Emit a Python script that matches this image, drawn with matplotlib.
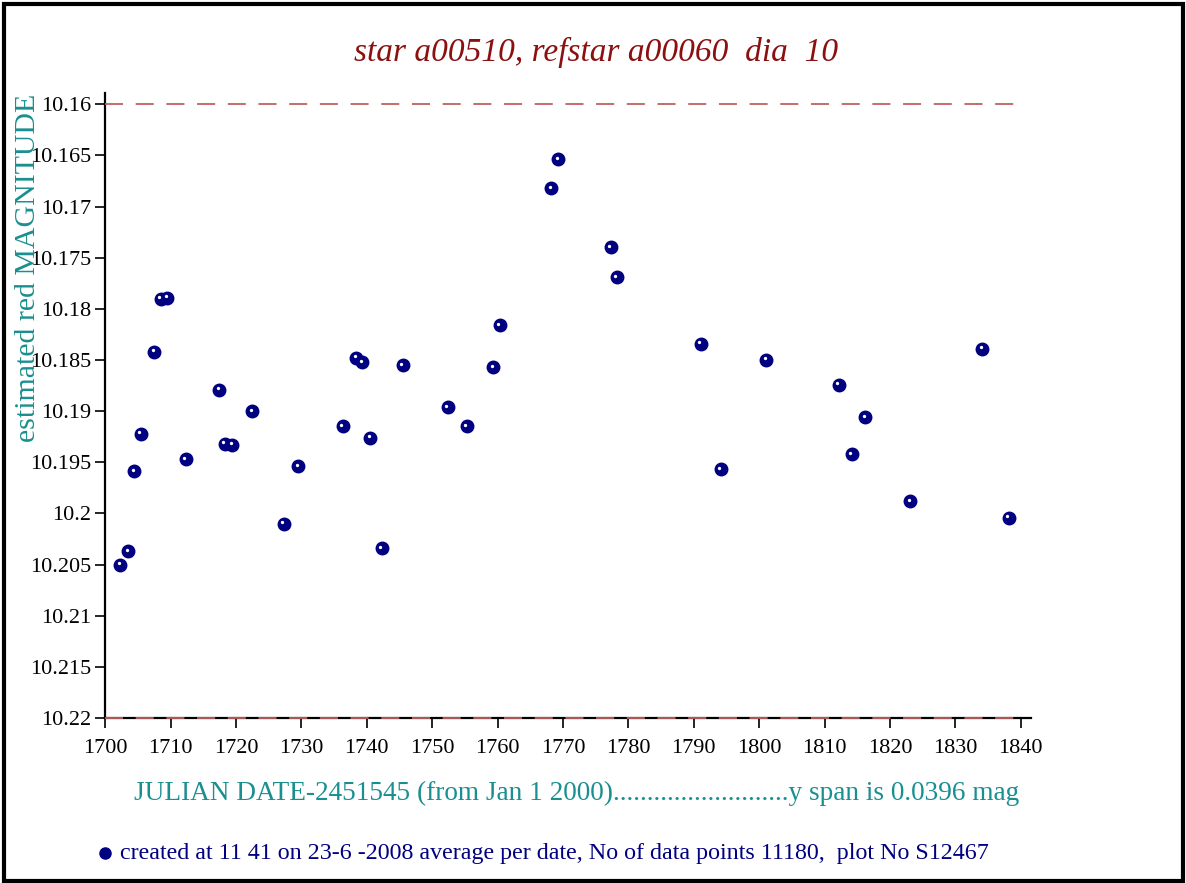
import matplotlib
matplotlib.use("Agg")
import matplotlib.pyplot as plt
from matplotlib.patches import Rectangle
from matplotlib.transforms import offset_copy

# ---- data ----
jd = [1702.3, 1703.5, 1704.4, 1705.4, 1707.5, 1708.5, 1709.5, 1712.3, 1717.4, 1718.3,
      1719.4, 1722.5, 1727.3, 1729.5, 1736.3, 1738.4, 1739.3, 1740.5, 1742.3, 1745.5,
      1752.4, 1755.3, 1759.3, 1760.3, 1768.2, 1769.3, 1777.3, 1778.2, 1791.1, 1794.1,
      1801.1, 1812.2, 1814.2, 1816.2, 1823.1, 1834.1, 1838.2]
mag = [10.2050, 10.2037, 10.1959, 10.1922, 10.1842, 10.1790, 10.1789, 10.1947, 10.1879, 10.1932,
       10.1933, 10.1900, 10.2010, 10.1954, 10.1915, 10.1848, 10.1852, 10.1926, 10.2034, 10.1855,
       10.1896, 10.1915, 10.1857, 10.1816, 10.1682, 10.1654, 10.1740, 10.1769, 10.1834, 10.1957,
       10.1850, 10.1874, 10.1942, 10.1906, 10.1988, 10.1839, 10.2004]
xticks = [1700, 1710, 1720, 1730, 1740, 1750, 1760, 1770, 1780, 1790, 1800, 1810, 1820, 1830, 1840]
yticks = [10.16, 10.165, 10.17, 10.175, 10.18, 10.185, 10.19, 10.195, 10.2, 10.205, 10.21, 10.215, 10.22]
ytick_labels = ["10.16", "10.165", "10.17", "10.175", "10.18", "10.185", "10.19", "10.195",
                "10.2", "10.205", "10.21", "10.215", "10.22"]
title = "star a00510, refstar a00060  dia  10"
ylabel = "estimated red MAGNITUDE"
xlabel = "JULIAN DATE-2451545 (from Jan 1 2000)..........................y span is 0.0396 mag"
footer = "created at 11 41 on 23-6 -2008 average per date, No of data points 11180,  plot No S12467"

SERIF = ["Liberation Serif", "DejaVu Serif"]
NAVY = "#000080"
TEAL = "#1a8f8f"
DARKRED = "#8b1010"
DASH = "#c06060"

W, H = 1186, 883
fig = plt.figure(figsize=(W / 100, H / 100), dpi=100)
fig.patch.set_facecolor("white")

left, right, top, bottom = 105.3, 1030.5, 93, 718
ax = fig.add_axes([left / W, 1 - bottom / H, (right - left) / W, (bottom - top) / H])
ax.set_xlim(1700, 1841.5)
ax.set_ylim(10.22, 10.1589)

for s in ["top", "right"]:
    ax.spines[s].set_visible(False)
for s in ["left", "bottom"]:
    ax.spines[s].set_linewidth(1.6)
    ax.spines[s].set_color("black")

ax.set_xticks(xticks)
ax.set_xticklabels([str(t) for t in xticks])
ax.set_yticks(yticks)
ax.set_yticklabels(ytick_labels)
ax.tick_params(axis="both", direction="out", length=7, width=1.2, colors="black",
               labelsize=16)
ax.tick_params(axis="x", pad=8)
ax.tick_params(axis="y", pad=3)
for lab in ax.get_xticklabels() + ax.get_yticklabels():
    lab.set_fontfamily(SERIF)

# dashed reference lines
ax.plot([1700, 1840], [10.16, 10.16], color=DASH, lw=1.3, dashes=(10, 7), clip_on=False, zorder=3)
ax.plot([1700, 1840], [10.22, 10.22], color=DASH, lw=1.3, dashes=(10, 7), clip_on=False, zorder=3)

# points
ax.plot(jd, mag, linestyle="none", marker="o", markersize=9, color=NAVY,
        markeredgecolor=NAVY, zorder=4, clip_on=False)
hl = offset_copy(ax.transData, fig=fig, x=-1.5, y=1.5, units="dots")
ax.plot(jd, mag, linestyle="none", marker="o", markersize=2.4, color="white",
        markeredgewidth=0, transform=hl, zorder=5, clip_on=False)

# texts
fig.text(596 / W, 1 - 52 / H, title, color=DARKRED, fontsize=24, style="italic",
         family=SERIF, ha="center", va="center")
fig.text(28 / W, 1 - 268 / H, ylabel, color=TEAL, fontsize=21.5, rotation=90,
         family=SERIF, ha="center", va="center")
fig.text(577 / W, 1 - 793 / H, xlabel, color=TEAL, fontsize=19.6,
         family=SERIF, ha="center", va="center")
fig.text(120 / W, 1 - 853 / H, footer, color=NAVY, fontsize=17.3,
         family=SERIF, ha="left", va="center")
fig.lines.append(plt.Line2D([105 / W], [1 - 853 / H], marker="o", markersize=8,
                            color=NAVY, transform=fig.transFigure))

# frame
fig.patches.append(Rectangle((4 / W, 2 / H), (W - 7) / W, (H - 6) / H, fill=False,
                             edgecolor="black", lw=3, transform=fig.transFigure))

fig.savefig("out.png", dpi=100, facecolor="white")
